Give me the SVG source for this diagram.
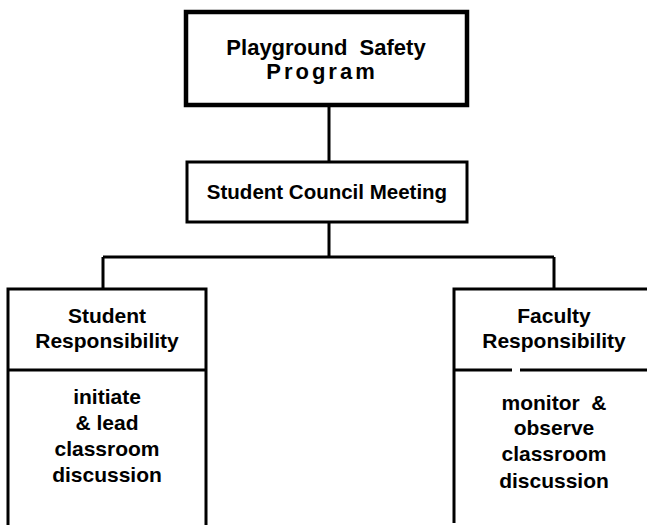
<svg xmlns="http://www.w3.org/2000/svg" width="647" height="525" viewBox="0 0 647 525">
<style>
.box{fill:none;stroke:#000;stroke-width:3}
.thick{stroke-width:4.5}
.ln{fill:none;stroke:#000;stroke-width:3}
text{font-family:"Liberation Sans",Arial,sans-serif;font-weight:bold;fill:#000;text-anchor:middle;white-space:pre}
.t{font-size:21px}
.top{font-size:22px}
.h{font-size:20.5px}
</style>
<rect width="647" height="525" fill="#fff"/>
<g id="connectors">
<path class="ln" d="M329,105 V162 M329,222 V257 M103,257 H554 M103,257 V289 M554,257 V289"/>
</g>
<g id="program">
<rect class="box thick" x="186" y="12" width="281" height="93"/>
<text class="top" x="326" y="55" xml:space="preserve">Playground  Safety</text>
<text class="top" x="322" y="79" letter-spacing="3">Program</text>
</g>
<g id="council">
<rect class="box" x="187" y="162" width="280" height="60"/>
<text class="h" x="327" y="199">Student Council Meeting</text>
</g>
<g id="student">
<path class="ln" d="M8,525 V289 H206 V525 M8,370 H206"/>
<text class="t" x="107" y="323">Student</text>
<text class="t" x="107" y="348">Responsibility</text>
<text class="t" x="107" y="404">initiate</text>
<text class="t" x="107" y="430">&amp; lead</text>
<text class="t" x="107" y="456">classroom</text>
<text class="t" x="107" y="482">discussion</text>
</g>
<g id="faculty">
<path class="ln" d="M454,523 V289 H647 M454,370 H512 M520,370 H647"/>
<text class="t" x="554" y="323">Faculty</text>
<text class="t" x="554" y="348">Responsibility</text>
<text class="t" x="554" y="410" xml:space="preserve">monitor  &amp;</text>
<text class="t" x="554" y="435">observe</text>
<text class="t" x="554" y="461">classroom</text>
<text class="t" x="554" y="488">discussion</text>
</g>
</svg>
